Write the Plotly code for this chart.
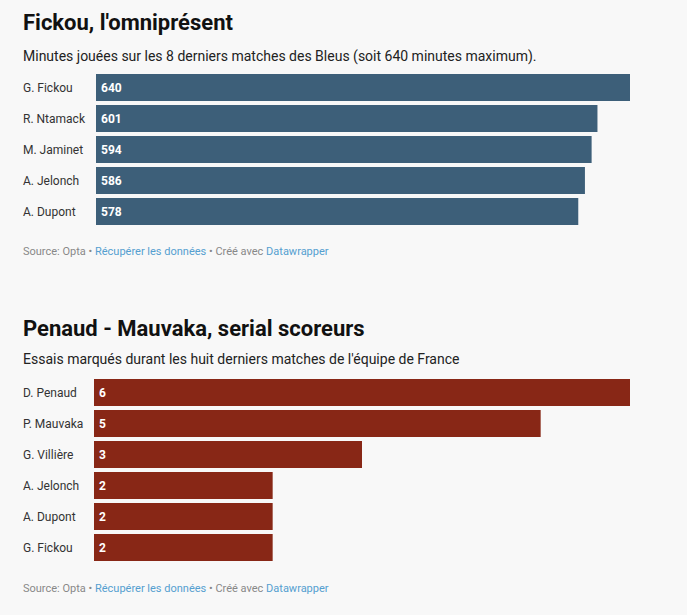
import plotly.graph_objects as go

W, H = 687, 615

# ---- Data ----
players1 = ["G. Fickou", "R. Ntamack", "M. Jaminet", "A. Jelonch", "A. Dupont"]
minutes = [640, 601, 594, 586, 578]

players2 = ["D. Penaud", "P. Mauvaka", "G. Villière", "A. Jelonch", "A. Dupont", "G. Fickou"]
tries = [6, 5, 3, 2, 2, 2]

title1 = "Fickou, l'omniprésent"
subtitle1 = "Minutes jouées sur les 8 derniers matches des Bleus (soit 640 minutes maximum)."
title2 = "Penaud - Mauvaka, serial scoreurs"
subtitle2 = "Essais marqués durant les huit derniers matches de l'équipe de France"

BLUE = "#3d5f79"
RED = "#882716"
BG = "#f8f8f8"
FONT = "Roboto"
LINK = "#559fd0"

def px(y):
    return 1 - y / H

fig = go.Figure()

fig.add_trace(go.Bar(
    x=minutes, y=list(range(len(players1))), orientation="h",
    marker=dict(color=BLUE, line=dict(width=0)),
    xaxis="x", yaxis="y", hoverinfo="skip",
))
fig.add_trace(go.Bar(
    x=tries, y=list(range(len(players2))), orientation="h",
    marker=dict(color=RED, line=dict(width=0)),
    xaxis="x2", yaxis="y2", hoverinfo="skip",
))

axis_common = dict(showgrid=False, zeroline=False, showticklabels=False, showline=False, ticks="", fixedrange=True)

fig.update_layout(
    width=W, height=H,
    margin=dict(l=0, r=0, t=0, b=0),
    paper_bgcolor=BG, plot_bgcolor=BG,
    showlegend=False,
    bargap=4 / 31,
    font=dict(family=FONT, color="#333333"),
    xaxis=dict(domain=[96 / W, 630 / W], range=[0, max(minutes)], anchor="y", **axis_common),
    yaxis=dict(domain=[px(227), px(72)], range=[len(players1) - 0.5, -0.5], anchor="x", **axis_common),
    xaxis2=dict(domain=[94 / W, 630 / W], range=[0, max(tries)], anchor="y2", **axis_common),
    yaxis2=dict(domain=[px(563), px(377)], range=[len(players2) - 0.5, -0.5], anchor="x2", **axis_common),
)

ann = []
def text_ann(txt, y, size, color, bold=False):
    ann.append(dict(text=txt, x=23 / W, y=px(y), xref="paper", yref="paper", xshift=-2,
                    xanchor="left", yanchor="middle", showarrow=False,
                    font=dict(size=size, color=color, family=FONT, weight="bold" if bold else "normal")))

source = ("Source: Opta • <span style='color:%s'>Récupérer les données</span> • Créé avec "
          "<span style='color:%s'>Datawrapper</span>") % (LINK, LINK)

text_ann(title1, 23, 22, "#111111", True)
text_ann(subtitle1, 56, 14, "#222222")
text_ann(source, 252, 11, "#888888")
text_ann(title2, 328, 22, "#111111", True)
text_ann(subtitle2, 359, 14, "#222222")
text_ann(source, 588, 11, "#888888")

for players, vals, xr, yr in [(players1, minutes, "x", "y"), (players2, tries, "x2", "y2")]:
    for i, p in enumerate(players):
        ann.append(dict(text=p, x=23 / W, y=i, xref="paper", yref=yr, xanchor="left", yanchor="middle",
                        xshift=-2, showarrow=False, font=dict(size=12, color="#333333", family=FONT)))
        ann.append(dict(text=str(vals[i]), x=0, y=i, xref=xr, yref=yr, xanchor="left", yanchor="middle",
                        xshift=3, showarrow=False,
                        font=dict(size=12, color="white", family=FONT, weight="bold")))

fig.update_layout(annotations=ann)
fig.write_html("out.html")
